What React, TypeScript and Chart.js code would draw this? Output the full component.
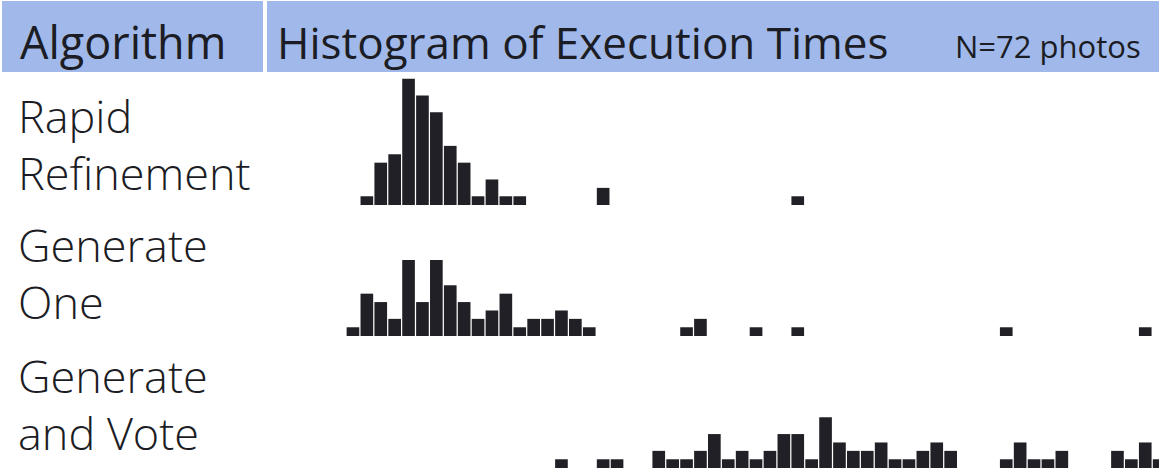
import React, { useEffect, useRef } from "react";
import { Chart, registerables } from "chart.js";

Chart.register(...registerables);

// Histogram bins (bin index along a shared execution-time axis) and counts
const rapidBins = [1, 2, 3, 4, 5, 6, 7, 8, 9, 10, 11, 12, 18, 32];
const rapidCounts = [1, 5, 6, 15, 13, 11, 7, 5, 1, 3, 1, 1, 2, 1];

const oneBins = [0, 1, 2, 3, 4, 5, 6, 7, 8, 9, 10, 11, 12, 13, 14, 15, 16, 17, 24, 25, 29, 32, 47, 57];
const oneCounts = [1, 5, 4, 2, 9, 4, 9, 6, 4, 2, 3, 5, 1, 2, 2, 3, 2, 1, 1, 2, 1, 1, 1, 1];

const voteBins = [15, 18, 19, 22, 23, 24, 25, 26, 27, 28, 29, 30, 31, 32, 33, 34, 35, 36, 37, 38, 39, 40, 41, 42, 43, 47, 48, 49, 50, 51, 55, 56, 57, 58];
const voteCounts = [1, 1, 1, 2, 1, 1, 2, 4, 1, 2, 1, 2, 4, 4, 1, 6, 3, 2, 2, 3, 1, 1, 2, 3, 2, 1, 3, 1, 1, 2, 2, 1, 3, 1];

const rowLabels = [["Rapid", "Refinement"], ["Generate", "One"], ["Generate", "and Vote"]];
const headerLeft = "Algorithm";
const headerMid = "Histogram of Execution Times";
const headerRight = "N=72 photos";

const FONT = "'Open Sans', 'Noto Sans', sans-serif";
const BIN_PX = 13.9;
const UNIT_PX = 8.4;
const CANVAS_LEFT = 345.75;
const CANVAS_W = 814;
const CANVAS_H = 135;

function Hist({ bins, counts, baseline }: { bins: number[]; counts: number[]; baseline: number }) {
  const ref = useRef<HTMLCanvasElement | null>(null);
  useEffect(() => {
    if (!ref.current) return;
    const chart = new Chart(ref.current, {
      type: "bar",
      data: {
        datasets: [
          {
            data: bins.map((b, i) => ({ x: b, y: counts[i] })),
            backgroundColor: "#202026",
            borderWidth: 0,
            barThickness: 12,
          } as any,
        ],
      },
      options: {
        responsive: false,
        animation: false,
        devicePixelRatio: 1,
        layout: { padding: 0 },
        plugins: { legend: { display: false }, tooltip: { enabled: false } },
        scales: {
          x: {
            type: "linear",
            offset: false,
            min: -0.5,
            max: -0.5 + CANVAS_W / BIN_PX,
            display: false,
            grid: { offset: false },
          },
          y: { min: 0, max: CANVAS_H / UNIT_PX, display: false },
        },
      },
    });
    return () => chart.destroy();
  }, []);
  return (
    <canvas
      ref={ref}
      width={CANVAS_W}
      height={CANVAS_H}
      style={{ position: "absolute", left: CANVAS_LEFT, top: baseline - CANVAS_H, width: CANVAS_W, height: CANVAS_H }}
    />
  );
}

export default function App() {
  const blue = "#a0b9ea";
  const ink = "#1c1c24";
  const labelTops = [87, 216, 347];
  return (
    <div
      style={{
        position: "fixed",
        left: 0,
        top: 0,
        width: 1159,
        height: 472,
        overflow: "hidden",
        background: "#ffffff",
        fontFamily: FONT,
        color: ink,
      }}
    >
      <div style={{ position: "absolute", left: 2, top: 1, width: 261, height: 71, background: blue }} />
      <div style={{ position: "absolute", left: 267, top: 1, width: 892, height: 71, background: blue }} />
      <div style={{ position: "absolute", left: 20, top: 17, fontSize: 45, lineHeight: "50px", whiteSpace: "nowrap" }}>
        {headerLeft}
      </div>
      <div style={{ position: "absolute", left: 277, top: 17, fontSize: 44, lineHeight: "50px", whiteSpace: "nowrap" }}>
        {headerMid}
      </div>
      <div style={{ position: "absolute", left: 955, top: 26, fontSize: 31, lineHeight: "40px", whiteSpace: "nowrap" }}>
        {headerRight}
      </div>
      {rowLabels.map((lines, i) => (
        <div
          key={i}
          style={{
            position: "absolute",
            left: 18,
            top: labelTops[i],
            fontSize: 45,
            fontWeight: 300,
            lineHeight: "57px",
            whiteSpace: "nowrap",
          }}
        >
          {lines.map((l, j) => (
            <div key={j}>{l}</div>
          ))}
        </div>
      ))}
      <Hist bins={rapidBins} counts={rapidCounts} baseline={205} />
      <Hist bins={oneBins} counts={oneCounts} baseline={336} />
      <Hist bins={voteBins} counts={voteCounts} baseline={468} />
    </div>
  );
}
